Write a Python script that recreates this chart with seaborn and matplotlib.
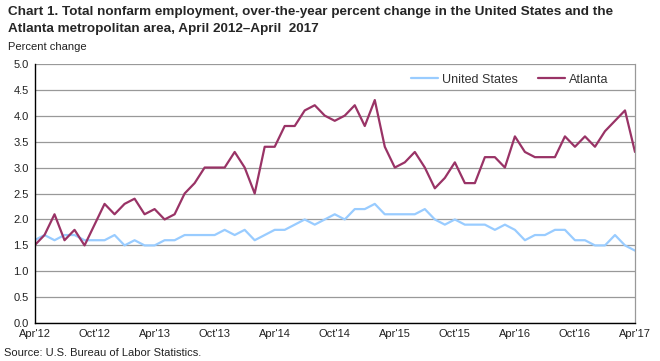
import matplotlib
matplotlib.use("Agg")
import matplotlib.pyplot as plt
import seaborn as sns
import pandas as pd
import numpy as np

# Data (monthly, Apr 2012 - Apr 2017)
us_values = [1.6, 1.7, 1.6, 1.7, 1.7, 1.6, 1.6, 1.6, 1.7, 1.5, 1.6, 1.5, 1.5, 1.6, 1.6, 1.7,
             1.7, 1.7, 1.7, 1.8, 1.7, 1.8, 1.6, 1.7, 1.8, 1.8, 1.9, 2.0, 1.9, 2.0, 2.1, 2.0,
             2.2, 2.2, 2.3, 2.1, 2.1, 2.1, 2.1, 2.2, 2.0, 1.9, 2.0, 1.9, 1.9, 1.9, 1.8, 1.9,
             1.8, 1.6, 1.7, 1.7, 1.8, 1.8, 1.6, 1.6, 1.5, 1.5, 1.7, 1.5, 1.4]
atlanta_values = [1.5, 1.7, 2.1, 1.6, 1.8, 1.5, 1.9, 2.3, 2.1, 2.3, 2.4, 2.1, 2.2, 2.0, 2.1, 2.5,
                  2.7, 3.0, 3.0, 3.0, 3.3, 3.0, 2.5, 3.4, 3.4, 3.8, 3.8, 4.1, 4.2, 4.0, 3.9, 4.0,
                  4.2, 3.8, 4.3, 3.4, 3.0, 3.1, 3.3, 3.0, 2.6, 2.8, 3.1, 2.7, 2.7, 3.2, 3.2, 3.0,
                  3.6, 3.3, 3.2, 3.2, 3.2, 3.6, 3.4, 3.6, 3.4, 3.7, 3.9, 4.1, 3.3]
tick_labels = ["Apr'12", "Oct'12", "Apr'13", "Oct'13", "Apr'14", "Oct'14",
               "Apr'15", "Oct'15", "Apr'16", "Oct'16", "Apr'17"]
series_names = ["United States", "Atlanta"]
colors = ["#99CCFF", "#993366"]

months = np.arange(len(us_values))
df = pd.DataFrame({
    "month": np.concatenate([months, months]),
    "value": us_values + atlanta_values,
    "series": [series_names[0]] * len(us_values) + [series_names[1]] * len(atlanta_values),
})

sns.set_style("white")
plt.rcParams["font.family"] = ["Liberation Sans", "DejaVu Sans"]

fig = plt.figure(figsize=(6.6, 3.61), dpi=100)
ax = fig.add_axes([34.5 / 660, 1 - 323.3 / 361, (635 - 34.5) / 660, (323.3 - 63.7) / 361])

sns.lineplot(data=df, x="month", y="value", hue="series", palette=colors,
             hue_order=series_names, linewidth=1.6, ax=ax, legend=True)

ax.set_xlim(0, len(us_values) - 1)
ax.set_ylim(0, 5.0)
ax.set_yticks(np.arange(0, 5.01, 0.5))
ax.set_yticklabels([f"{v:.1f}" for v in np.arange(0, 5.01, 0.5)], fontsize=8, color="#222222")
ax.set_xticks(np.arange(0, len(us_values), 6))
ax.set_xticklabels(tick_labels, fontsize=8, color="#222222")
ax.tick_params(axis="both", length=0, pad=4)
ax.grid(axis="y", color="#999999", linewidth=0.9)
ax.set_axisbelow(True)
ax.set_xlabel("")
ax.set_ylabel("")

ax.spines["top"].set_visible(False)
ax.spines["right"].set_color("#999999")
ax.spines["right"].set_linewidth(0.9)
ax.spines["left"].set_color("black")
ax.spines["bottom"].set_color("black")
ax.spines["left"].set_linewidth(1.0)
ax.spines["bottom"].set_linewidth(1.0)

leg = ax.legend(loc="upper right", bbox_to_anchor=(0.975, 1.005), ncol=2, frameon=False,
                fontsize=9, handlelength=2.2, handletextpad=0.3, columnspacing=1.6)
for t in leg.get_texts():
    t.set_color("#333333")

title_lines = ["Chart 1. Total nonfarm employment, over-the-year percent change in the United States and the",
               "Atlanta metropolitan area, April 2012\u2013April  2017"]
renderer = fig.canvas.get_renderer()
t1 = fig.text(8 / 660, 1 - 12 / 361, title_lines[0], ha="left", va="center",
              fontsize=10, fontweight="bold")
w = t1.get_window_extent(renderer).width
fs = 10 * 604.0 / w
t1.set_fontsize(fs)
fig.text(8 / 660, 1 - 29 / 361, title_lines[1], ha="left", va="center",
         fontsize=fs, fontweight="bold")

fig.text(8 / 660, 1 - 47 / 361, "Percent change", ha="left", va="center", fontsize=8,
         color="#222222")
fig.text(4 / 660, 1 - 353 / 361, "Source: U.S. Bureau of Labor Statistics.", ha="left",
         va="center", fontsize=8, color="#222222")

fig.savefig("out.png", dpi=100)
